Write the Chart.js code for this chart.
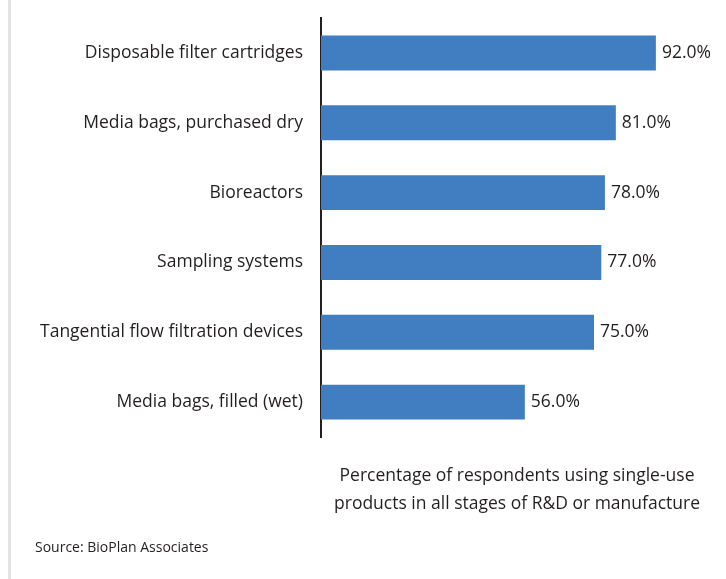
<!DOCTYPE html>
<html lang="en">
<head>
  <meta charset="UTF-8">
  <title>Single-use products</title>
  <script src="https://cdn.jsdelivr.net/npm/chart.js"></script>
  <style>
    body { margin: 0; background: #fff; }
    #wrap { width: 726px; height: 579px; position: relative; }
  </style>
</head>
<body>
  <div id="wrap"><canvas id="chart"></canvas></div>
  <script>
    const categories = [
      "Disposable filter cartridges",
      "Media bags, purchased dry",
      "Bioreactors",
      "Sampling systems",
      "Tangential flow filtration devices",
      "Media bags, filled (wet)"
    ];
    const values = [92, 81, 78, 77, 75, 56];
    const axisTitle = [
      "Percentage of respondents using single-use",
      "products in all stages of R&D or manufacture"
    ];
    const sourceText = "Source: BioPlan Associates";

    const FONT = "'Open Sans', sans-serif";
    const TEXT = "#231f20";

    // value labels, axis caption, source note and the grey rule on the left
    const extras = {
      id: 'extras',
      afterDraw(chart) {
        const ctx = chart.ctx;
        ctx.save();
        ctx.fillStyle = '#e3e3e3';
        ctx.fillRect(8, 0, 3, chart.height);

        ctx.fillStyle = TEXT;
        ctx.font = "17.5px " + FONT;
        ctx.textAlign = 'left';
        ctx.textBaseline = 'middle';
        chart.getDatasetMeta(0).data.forEach((bar, i) => {
          ctx.fillText(values[i].toFixed(1) + '%', bar.x + 6, bar.y);
        });

        ctx.textAlign = 'center';
        ctx.font = "17.5px " + FONT;
        axisTitle.forEach((line, i) => {
          ctx.fillText(line, 517, 476 + i * 28);
        });

        ctx.textAlign = 'left';
        ctx.font = "14px " + FONT;
        ctx.fillText(sourceText, 35, 548);
        ctx.restore();
      }
    };

    new Chart(document.getElementById('chart'), {
      type: 'bar',
      data: {
        labels: categories,
        datasets: [{
          data: values,
          backgroundColor: '#417dc1',
          barPercentage: 0.5,
          categoryPercentage: 1
        }]
      },
      options: {
        indexAxis: 'y',
        responsive: true,
        maintainAspectRatio: false,
        animation: false,
        layout: { padding: { left: 0, right: 41, top: 17, bottom: 142 } },
        plugins: { legend: { display: false }, tooltip: { enabled: false } },
        scales: {
          x: {
            min: 0, max: 100,
            display: false
          },
          y: {
            afterFit(scale) { scale.width = 321; },
            grid: { display: false, drawTicks: false },
            border: { display: true, color: '#231f20', width: 2 },
            ticks: { color: TEXT, font: { family: FONT, size: 17.5, lineHeight: 0.01 }, padding: 18 }
          }
        }
      },
      plugins: [extras]
    });
  </script>
</body>
</html>
